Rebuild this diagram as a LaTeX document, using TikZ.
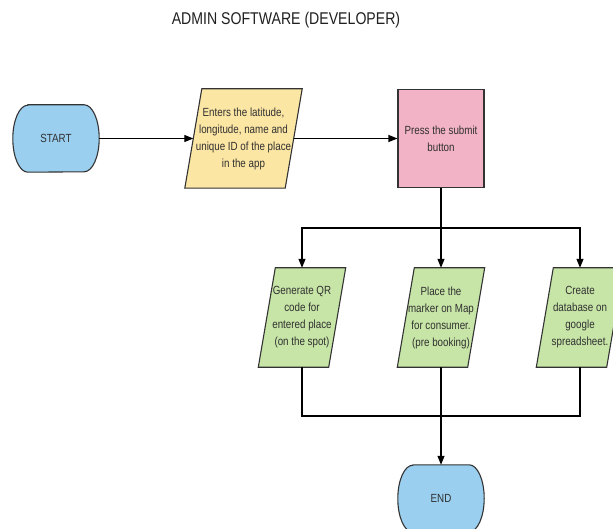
\documentclass[tikz,border=0pt]{standalone}
\usepackage{fontspec}
\setmainfont{Liberation Sans}[FakeStretch=0.83]
\usetikzlibrary{backgrounds,arrows.meta}

\definecolor{termblue}{HTML}{9ACFEF}
\definecolor{inyellow}{HTML}{FCE6A4}
\definecolor{procpink}{HTML}{F2B3C7}
\definecolor{outgreen}{HTML}{C7E5A7}
\definecolor{edgegray}{HTML}{333333}
\definecolor{textgray}{HTML}{303030}

\tikzset{
  base/.style={inner sep=0pt, text=textgray, align=center,
    font=\fontsize{11.8}{17}\selectfont},
  term/.style={base, minimum width=86pt, minimum height=67pt},
  iobox/.style={base, minimum height=99pt},
  procbox/.style={base, draw=edgegray, line width=1.1pt, fill=procpink,
    minimum width=86pt, minimum height=98pt},
  outline/.style={draw=edgegray, line width=1.1pt},
  link/.style={draw=black, line width=1.2pt},
  arrow/.style={link, -{Triangle[length=9pt,width=7pt]}},
  heading/.style={inner sep=0pt, text=black!88,
    font=\fontsize{17}{20}\selectfont}
}

% terminator: flat top and bottom, elliptical sides
\newcommand\termoutline[2]{%
  \draw[outline, fill=#2] ([xshift=15pt]#1.north west) -- ([xshift=-15pt]#1.north east)
    arc[start angle=90, end angle=-90, x radius=15pt, y radius=33.5pt]
    -- ([xshift=15pt]#1.south west)
    arc[start angle=270, end angle=90, x radius=15pt, y radius=33.5pt] -- cycle;}
% data box: parallelogram whose slanted sides pass through west/east anchors
\newcommand\iooutline[2]{%
  \draw[outline, fill=#2] ([xshift=8.5pt]#1.north west) -- ([xshift=8.5pt]#1.north east)
    -- ([xshift=-8.5pt]#1.south east) -- ([xshift=-8.5pt]#1.south west) -- cycle;}

\begin{document}
\begin{tikzpicture}[x=1pt, y=1pt]
  \useasboundingbox (0,0) rectangle (613,-529);

  \node[heading] (title) at (286,-20) {ADMIN SOFTWARE (DEVELOPER)};

  \node[term] (start) at (56,-138.5) {START};
  \node[iobox, minimum width=100pt] (enter) at (243.5,-138.5)
    {Enters the latitude,\\longitude, name and\\unique ID of the place\\in the app};
  \node[procbox] (submit) at (441,-138.5) {Press the submit\\button};

  \node[iobox, minimum width=70pt] (qr) at (302,-317.5)
    {Generate QR\\code for\\entered place\\(on the spot)};
  \node[iobox, minimum width=70pt] (marker) at (441,-317.5)
    {Place the\\marker on Map\\for consumer.\\(pre booking)};
  \node[iobox, minimum width=70pt] (sheet) at (580,-317.5)
    {Create\\database on\\google\\spreadsheet.};

  \node[term] (end) at (441,-498.5) {END};

  \begin{scope}[on background layer]
    \termoutline{start}{termblue}
    \termoutline{end}{termblue}
    \iooutline{enter}{inyellow}
    \iooutline{qr}{outgreen}
    \iooutline{marker}{outgreen}
    \iooutline{sheet}{outgreen}
  \end{scope}

  \coordinate (split) at (441,-228);
  \coordinate (join) at (441,-416);

  \draw[arrow] (start.east) -- (enter.west);
  \draw[arrow] (enter.east) -- (submit.west);
  \draw[link] (submit.south) -- (split);
  \draw[arrow] (split) -| (qr.north);
  \draw[arrow] (split) -| (sheet.north);
  \draw[arrow] (split) -- (marker.north);

  \draw[link] (qr.south) |- (join) -| (sheet.south);
  \draw[arrow] (marker.south) -- (end.north);
\end{tikzpicture}
\end{document}
